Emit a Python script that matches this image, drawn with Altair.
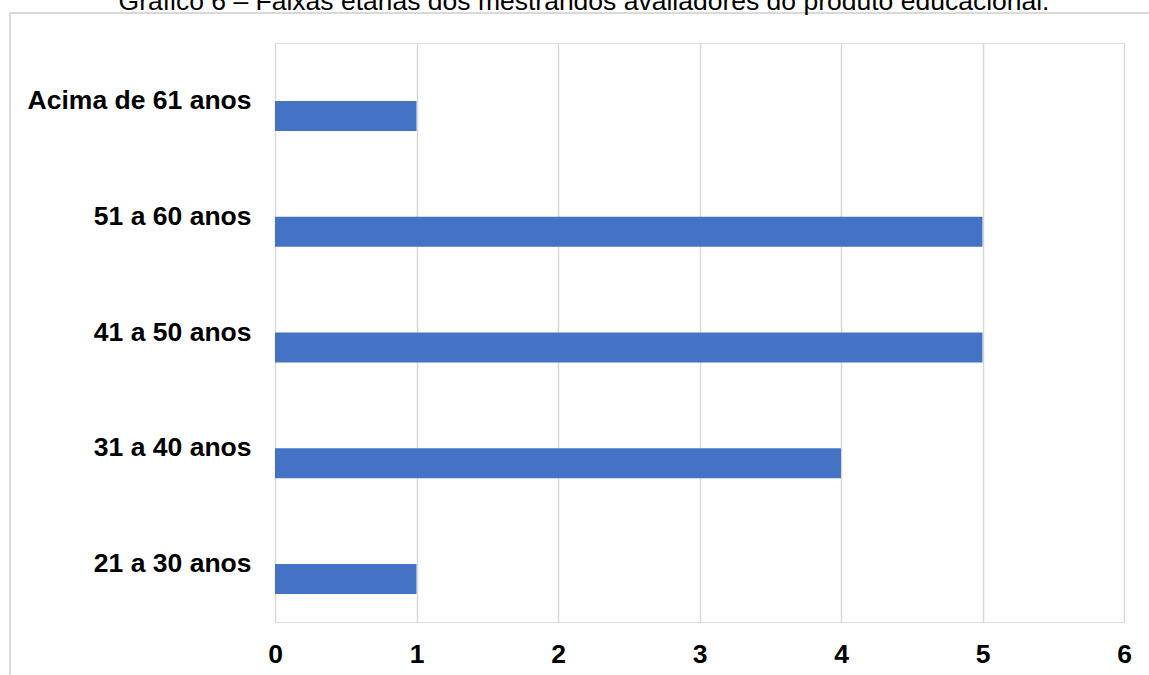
import altair as alt
import pandas as pd

# Age bands of the evaluating master's students and their counts
faixas = ["Acima de 61 anos", "51 a 60 anos", "41 a 50 anos", "31 a 40 anos", "21 a 30 anos"]
contagens = [1, 5, 5, 4, 1]
titulo = "Gráfico 6 – Faixas etárias dos mestrandos avaliadores do produto educacional."

FONT = "Liberation Sans"
GRID = "#d9d9d9"
SIZE = 26.5

dados = pd.DataFrame({"faixa": faixas, "n": contagens})

barras = alt.Chart(dados).mark_bar(color="#4472C4", height=30, yOffset=15).encode(
    x=alt.X(
        "n:Q",
        scale=alt.Scale(domain=[0, 6], nice=False),
        axis=alt.Axis(
            values=[0, 1, 2, 3, 4, 5, 6],
            format="d",
            title=None,
            domain=False,
            ticks=False,
            grid=True,
            gridColor=GRID,
            gridWidth=1.5,
            labelFont=FONT,
            labelFontSize=SIZE,
            labelFontWeight="bold",
            labelColor="black",
            labelPadding=19,
            labelFlush=False,
        ),
    ),
    y=alt.Y(
        "faixa:N",
        sort=faixas,
        scale=alt.Scale(paddingInner=0, paddingOuter=0),
        axis=alt.Axis(
            title=None,
            domain=False,
            ticks=False,
            grid=False,
            labelFont=FONT,
            labelFontSize=SIZE,
            labelFontWeight="bold",
            labelColor="black",
            labelPadding=24,
            labelLimit=400,
        ),
    ),
)

# Outer frame around the figure
moldura = alt.Chart(pd.DataFrame({"k": [0]})).mark_rect(
    fill=None, stroke=GRID, strokeWidth=2
).encode(
    x=alt.value(-265), x2=alt.value(950), y=alt.value(-30), y2=alt.value(700)
)

cabecalho = alt.Chart(pd.DataFrame({"t": [titulo]})).mark_text(
    font=FONT, fontSize=SIZE, color="black", align="center", baseline="alphabetic"
).encode(text="t:N", x=alt.value(309), y=alt.value(-33.5))

chart = (
    alt.layer(moldura, barras, cabecalho)
    .properties(
        width=849,
        height=579,
        autosize=alt.AutoSizeParams(type="none"),
        padding={"left": 275, "top": 43, "right": 25, "bottom": 53},
    )
    .configure_view(stroke=None)
    .configure(background="white")
)

chart.save("out.html", embed_options={"renderer": "svg", "actions": False})
